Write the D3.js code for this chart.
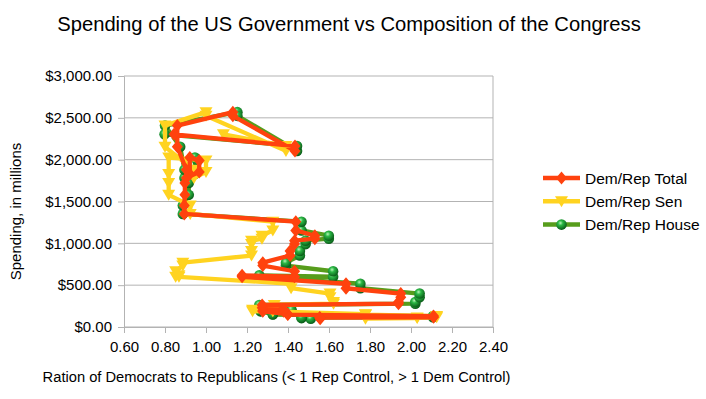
<!DOCTYPE html>
<html>
<head>
<meta charset="utf-8">
<script src="https://cdn.jsdelivr.net/npm/d3@7"></script>
<style>
  body { margin: 0; background: #fff; }
  svg text { font-family: "Liberation Sans", Arial, sans-serif; fill: #000; }
</style>
</head>
<body>
<div id="chart"></div>
<script>
// receipts per year and Dem/Rep ratios of each congress
const years = [1962, 1963, 1964, 1965, 1966, 1967, 1968, 1969, 1970, 1971,
  1972, 1973, 1974, 1975, 1976, 1977, 1978, 1979, 1980, 1981,
  1982, 1983, 1984, 1985, 1986, 1987, 1988, 1989, 1990, 1991,
  1992, 1993, 1994, 1995, 1996, 1997, 1998, 1999, 2000, 2001,
  2002, 2003, 2004, 2005, 2006, 2007, 2008, 2009, 2010, 2011];

const spending = [99.7, 106.6, 112.6, 116.8, 130.8, 148.8, 153.0, 186.9, 192.8, 187.1,
  207.3, 230.8, 263.2, 279.1, 298.1, 355.6, 399.6, 463.3, 517.1, 599.3,
  617.8, 600.6, 666.4, 734.0, 769.2, 854.3, 909.2, 991.1, 1032.0, 1055.0,
  1091.2, 1154.3, 1258.6, 1351.8, 1453.1, 1579.2, 1721.7, 1827.5, 2025.2, 1991.1,
  1853.1, 1782.3, 1880.1, 2153.6, 2406.9, 2568.0, 2524.0, 2105.0, 2162.7, 2303.5];

const ratioTotal = [1.557, 1.555, 1.555, 2.110, 2.110, 1.399, 1.399, 1.277, 1.277, 1.379,
  1.379, 1.274, 1.274, 1.939, 1.939, 1.950, 1.950, 1.683, 1.683, 1.176,
  1.176, 1.432, 1.432, 1.277, 1.277, 1.410, 1.410, 1.432, 1.432, 1.531,
  1.531, 1.438, 1.438, 0.894, 0.894, 0.897, 0.897, 0.921, 0.921, 0.967,
  0.967, 0.904, 0.904, 0.860, 0.860, 1.131, 1.131, 1.434, 1.434, 0.844];

const ratioSen = [1.778, 2.030, 2.030, 2.125, 2.125, 1.778, 1.778, 1.326, 1.326, 1.227,
  1.227, 1.333, 1.333, 1.622, 1.622, 1.605, 1.605, 1.415, 1.415, 0.868,
  0.868, 0.852, 0.852, 0.887, 0.887, 1.222, 1.222, 1.222, 1.222, 1.273,
  1.273, 1.326, 1.326, 0.923, 0.923, 0.818, 0.818, 0.818, 0.818, 1.000,
  1.000, 0.941, 0.941, 0.800, 0.800, 1.000, 1.000, 1.390, 1.390, 1.085];

const ratioHouse = [1.511, 1.466, 1.466, 2.107, 2.107, 1.326, 1.326, 1.266, 1.266, 1.417,
  1.417, 1.260, 1.260, 2.021, 2.021, 2.042, 2.042, 1.753, 1.753, 1.260,
  1.260, 1.620, 1.620, 1.390, 1.390, 1.458, 1.458, 1.486, 1.486, 1.599,
  1.599, 1.466, 1.466, 0.887, 0.887, 0.916, 0.916, 0.946, 0.946, 0.959,
  0.959, 0.895, 0.895, 0.874, 0.800, 1.153, 1.153, 1.444, 1.444, 0.798];

const xTicks = [0.6, 0.8, 1.0, 1.2, 1.4, 1.6, 1.8, 2.0, 2.2, 2.4];
const yTicks = [0, 500, 1000, 1500, 2000, 2500, 3000];

const seriesNames = ["Dem/Rep Total", "Dem/Rep Sen", "Dem/Rep House"];
const seriesRatios = [ratioTotal, ratioSen, ratioHouse];
const seriesColors = ["#ff420e", "#ffd320", "#579d1c"];
const seriesMarkers = ["diamond", "triangle", "sphere"];

const width = 706, height = 399;
const plot = {left: 124, right: 493, top: 76, bottom: 327};

const svg = d3.select("#chart").append("svg")
  .attr("width", width)
  .attr("height", height);

const defs = svg.append("defs");
const grad = defs.append("radialGradient")
  .attr("id", "ball")
  .attr("cx", "40%").attr("cy", "35%").attr("r", "65%");
grad.append("stop").attr("offset", "0%").attr("stop-color", "#b8f5b8");
grad.append("stop").attr("offset", "35%").attr("stop-color", "#2bb845");
grad.append("stop").attr("offset", "100%").attr("stop-color", "#0a5c18");

const x = d3.scaleLinear().domain([0.6, 2.4]).range([plot.left, plot.right]);
const y = d3.scaleLinear().domain([0, 3000]).range([plot.bottom, plot.top]);

// grid
svg.append("g")
  .selectAll("line")
  .data(yTicks)
  .enter().append("line")
  .attr("x1", plot.left).attr("x2", plot.right)
  .attr("y1", d => y(d)).attr("y2", d => y(d))
  .style("stroke", "#b3b3b3").style("stroke-width", 1);

svg.append("line")
  .attr("x1", plot.right).attr("x2", plot.right)
  .attr("y1", plot.top).attr("y2", plot.bottom)
  .style("stroke", "#b3b3b3");

const xAxis = d3.axisBottom(x).tickValues(xTicks).tickFormat(d3.format(".2f"))
  .tickSize(6).tickPadding(8);
const yAxis = d3.axisLeft(y).tickValues(yTicks).tickFormat(d3.format("$,.2f"))
  .tickSize(6).tickPadding(6);

const gx = svg.append("g")
  .attr("transform", "translate(0," + plot.bottom + ")")
  .call(xAxis);
const gy = svg.append("g")
  .attr("transform", "translate(" + plot.left + ",0)")
  .call(yAxis);

[gx, gy].forEach(function(g) {
  g.select(".domain").style("stroke", "#b3b3b3");
  g.selectAll(".tick line").style("stroke", "#b3b3b3");
  g.selectAll(".tick text")
    .style("font-family", '"Liberation Sans", Arial, sans-serif')
    .style("font-size", "15px").style("fill", "#000");
});

function drawMarker(g, type, color, cx, cy) {
  if (type === "diamond") {
    g.append("path")
      .attr("d", `M${cx},${cy - 6.5}L${cx + 5.5},${cy}L${cx},${cy + 6.5}L${cx - 5.5},${cy}Z`)
      .style("fill", color);
  } else if (type === "triangle") {
    g.append("path")
      .attr("d", `M${cx - 6.5},${cy - 5}L${cx + 6.5},${cy - 5}L${cx},${cy + 6}Z`)
      .style("fill", color);
  } else {
    g.append("circle")
      .attr("cx", cx).attr("cy", cy).attr("r", 5.3)
      .style("fill", "url(#ball)");
  }
}

const line = d3.line();

// House first, Total on top
for (let s = 2; s >= 0; s--) {
  const pts = spending.map((v, i) => [x(seriesRatios[s][i]), y(v)]);
  const g = svg.append("g");
  g.append("path")
    .attr("d", line(pts))
    .style("fill", "none")
    .style("stroke", seriesColors[s])
    .style("stroke-width", 4.3)
    .style("stroke-linejoin", "round");
  pts.forEach(p => drawMarker(g, seriesMarkers[s], seriesColors[s], p[0], p[1]));
}

// legend
const legend = svg.append("g");
seriesNames.forEach(function(name, i) {
  const cy = 178 + i * 23.3;
  legend.append("line")
    .attr("x1", 543).attr("x2", 580)
    .attr("y1", cy).attr("y2", cy)
    .style("stroke", seriesColors[i]).style("stroke-width", 4.5);
  drawMarker(legend, seriesMarkers[i], seriesColors[i], 561.5, cy);
  legend.append("text")
    .attr("x", 585).attr("y", cy + 5.5)
    .style("font-size", "15.5px")
    .text(name);
});

// titles
svg.append("text")
  .attr("x", 349).attr("y", 31)
  .attr("text-anchor", "middle")
  .style("font-size", "20.2px")
  .text("Spending of the US Government vs Composition of the Congress");

svg.append("text")
  .attr("x", 276.5).attr("y", 382)
  .attr("text-anchor", "middle")
  .style("font-size", "14.7px")
  .text("Ration of Democrats to Republicans (< 1 Rep Control, > 1 Dem Control)");

svg.append("text")
  .attr("transform", "translate(21,211.5) rotate(-90)")
  .attr("text-anchor", "middle")
  .style("font-size", "15px")
  .text("Spending, in millions");
</script>
</body>
</html>
